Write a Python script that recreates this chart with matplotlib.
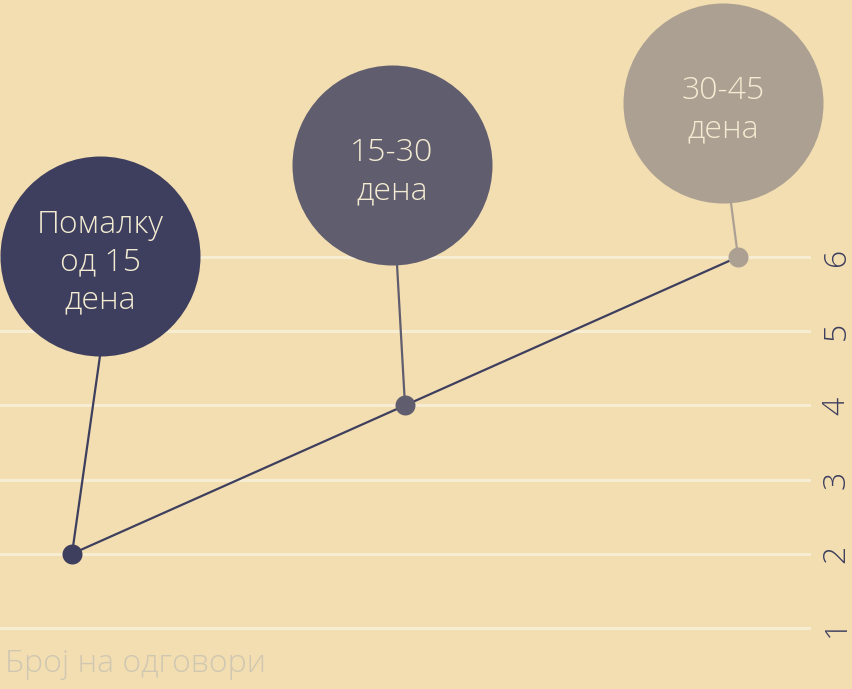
import matplotlib
matplotlib.use("Agg")
import matplotlib.pyplot as plt

# ---- data ----
categories = ["Помалку\nод 15\nдена", "15-30\nдена", "30-45\nдена"]
values = [2, 4, 6]
yticks = [1, 2, 3, 4, 5, 6]
ytick_labels = ["1", "2", "3", "4", "5", "6"]
title = "Број на одговори"

# ---- style ----
bg = "#F3DEB2"
grid_c = "#F6EDD3"
dark = "#3E3F5E"
point_colors = ["#3E3F5E", "#605D6E", "#ABA091"]
text_c = "#F4ECD2"
title_c = "#CFC7B1"
fam = ["Open Sans", "DejaVu Sans"]

# bubble layout: offsets in pixels from data point (dx right, dy up)
bubble_off = [(28, 298), (-13, 240), (-15, 154)]
connector_off = [(28, 198), (-8, 141), (-7, 54)]
bubble_r = 100  # px
text_shift = -7  # px

W, H, DPI = 852, 689, 100
fig = plt.figure(figsize=(W / DPI, H / DPI), dpi=DPI, facecolor=bg)
ax = fig.add_axes([0, 0, 811 / W, 1])
ax.set_facecolor(bg)
for s in ax.spines.values():
    s.set_visible(False)

x = list(range(len(values)))
ax.set_xlim(-72 / 333, (811 - 72) / 333)
ax.set_ylim(1 - 61 / 74.2, 1 + 628 / 74.2)

for t in yticks:
    ax.axhline(t, color=grid_c, lw=2.2, zorder=1)

ax.set_xticks([])
ax.set_yticks(yticks)
ax.set_yticklabels(ytick_labels)
ax.yaxis.tick_right()
ax.tick_params(axis="y", length=0, pad=7, labelsize=23, labelcolor=dark)
for lab in ax.get_yticklabels():
    lab.set_rotation(90)
    lab.set_va("center")
    lab.set_ha("left")
    lab.set_family(fam)
    lab.set_fontweight("light")

ax.plot(x, values, color=dark, lw=1.6, zorder=3)

inv = ax.transData.inverted()
for i, (xi, vi) in enumerate(zip(x, values)):
    px, py = ax.transData.transform((xi, vi))
    bx, by = inv.transform((px + bubble_off[i][0], py + bubble_off[i][1]))
    tx, ty = inv.transform((px + bubble_off[i][0],
                            py + bubble_off[i][1] + text_shift))
    cx, cy = inv.transform((px + connector_off[i][0], py + connector_off[i][1]))
    ax.plot([xi, cx], [vi, cy], color=point_colors[i], lw=1.6, zorder=2,
            solid_capstyle="butt")
    d_pt = 2 * bubble_r * 72 / DPI
    ax.scatter([bx], [by], s=d_pt ** 2, color=point_colors[i], zorder=4,
               linewidths=0, clip_on=False)
    ax.text(tx, ty, categories[i], ha="center", va="center", color=text_c,
            fontsize=23, family=fam, fontweight="light", linespacing=1.25,
            zorder=5)
    ax.scatter([xi], [vi], s=(20 * 72 / DPI) ** 2, color=point_colors[i],
               zorder=6, linewidths=0, clip_on=False)

fig.text(5 / W, 1 - 672 / H, title, ha="left", va="baseline", color=title_c,
         fontsize=23, family=fam, fontweight="light")

fig.savefig("out.png", dpi=DPI, facecolor=bg)
